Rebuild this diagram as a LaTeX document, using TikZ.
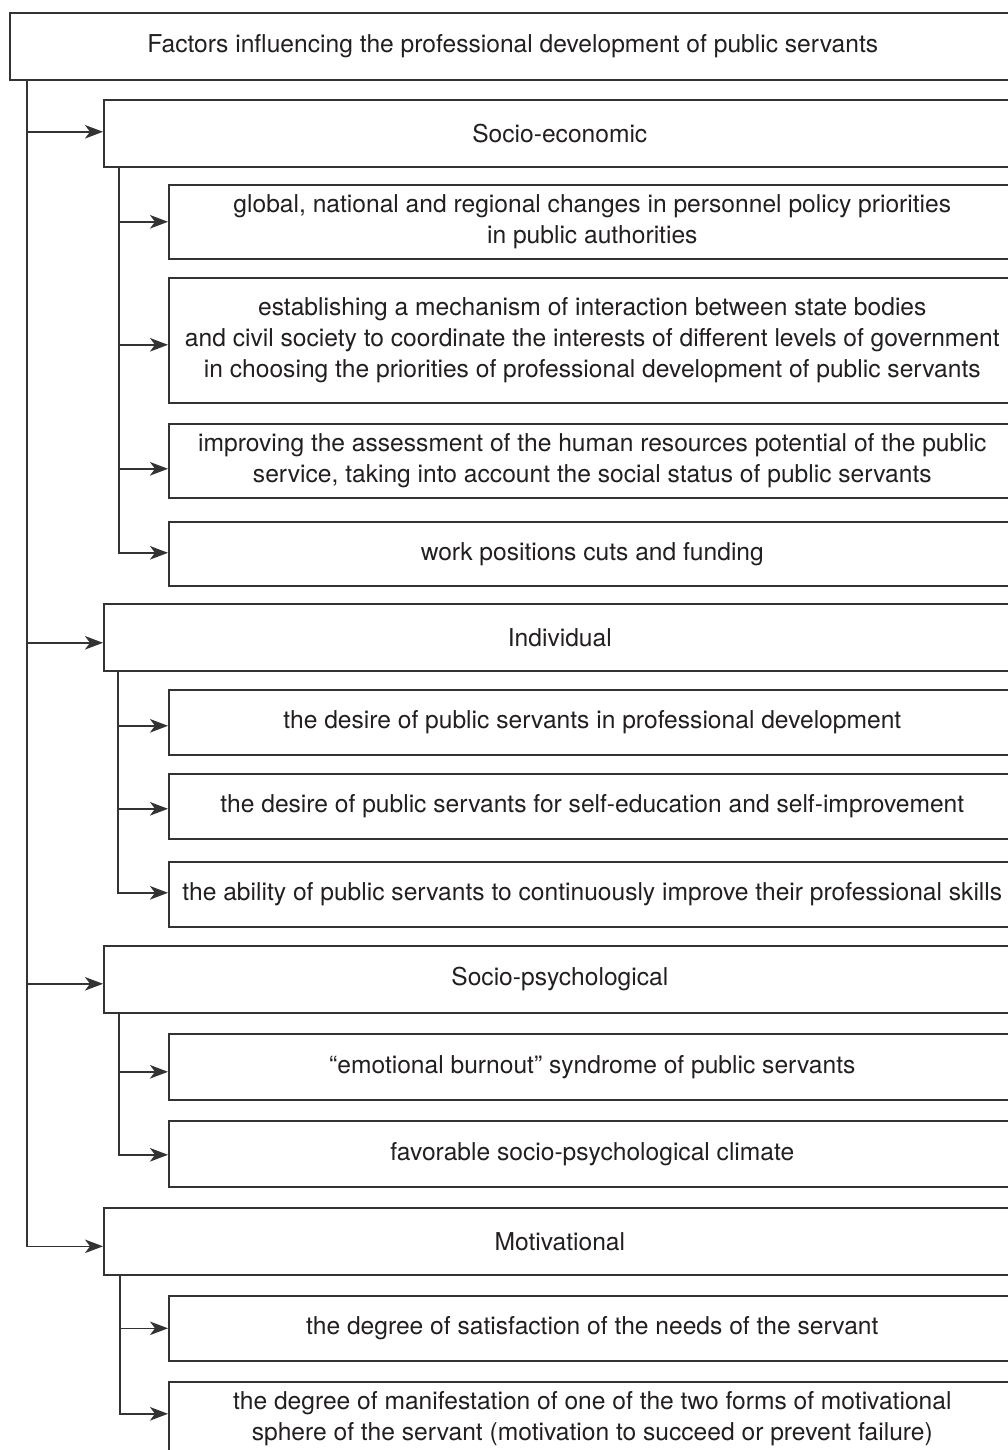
\documentclass[tikz,border=0pt]{standalone}
\usepackage{fontspec}
\setmainfont{TeX Gyre Heros}
\usetikzlibrary{arrows.meta}
\definecolor{ink}{HTML}{231F20}
\definecolor{rule}{HTML}{333333}
\tikzset{
  box/.style={draw=rule, line width=1.6pt, inner sep=0pt, align=center, anchor=north west,
    text=ink, font=\fontsize{24.6}{31}\selectfont},
  topbox/.style={box, minimum width=1006pt, minimum height=67pt},
  catbox/.style={box, minimum width=912pt, minimum height=67pt},
  subbox/.style={box, minimum width=847pt},
  conn/.style={draw=rule, line width=1.6pt, -{Stealth[length=18pt,width=13.5pt,inset=5pt]}},
}
\begin{document}
\begin{tikzpicture}[x=1pt,y=-1pt]
\clip (0,0) rectangle (1008,1450);
\fill[white] (0,0) rectangle (1008,1450);
% title
\node[topbox] (top) at (9,12) {Factors influencing the professional development of public servants};
% categories
\node[catbox] (se) at (103,99) {Socio-economic};
\node[subbox, minimum height=74pt] (se1) at (168,184) {global, national and regional changes in personnel policy priorities\\in public authorities};
\node[subbox, minimum height=125pt] (se2) at (168,277) {establishing a mechanism of interaction between state bodies\\and civil society to coordinate the interests of different levels of government\\in choosing the priorities of professional development of public servants};
\node[subbox, minimum height=74pt] (se3) at (168,423) {improving the assessment of the human resources potential of the public\\service, taking into account the social status of public servants};
\node[subbox, minimum height=64pt] (se4) at (168,521) {work positions cuts and funding};

\node[catbox] (ind) at (103,603) {Individual};
\node[subbox, minimum height=65pt] (in1) at (168,689) {the desire of public servants in professional development};
\node[subbox, minimum height=65pt] (in2) at (168,773) {the desire of public servants for self-education and self-improvement};
\node[subbox, minimum height=65pt] (in3) at (168,861) {the ability of public servants to continuously improve their professional skills};

\node[catbox] (sp) at (103,945) {Socio-psychological};
\node[subbox, minimum height=66pt] (sp1) at (168,1033) {“emotional burnout” syndrome of public servants};
\node[subbox, minimum height=66pt] (sp2) at (168,1120) {favorable socio-psychological climate};

\node[catbox] (mo) at (103,1207) {Motivational};
\node[subbox, minimum height=65pt] (mo1) at (168,1295) {the degree of satisfaction of the needs of the servant};
\node[subbox, minimum height=74pt] (mo2) at (168,1381) {the degree of manifestation of one of the two forms of motivational\\sphere of the servant (motivation to succeed or prevent failure)};

% main trunk
\coordinate (trunk) at ([xshift=18pt]top.south west);
\draw[conn] (trunk) |- ([yshift=1.5pt]se.west);
\draw[conn] (trunk) |- ([yshift=-5.5pt]ind.west);
\draw[conn] (trunk) |- ([yshift=-4.5pt]sp.west);
\draw[conn] (trunk) |- ([yshift=-5pt]mo.west);

% socio-economic branch
\coordinate (b1) at ([xshift=16pt]se.south west);
\draw[conn] (b1) |- (se1.west);
\draw[conn] (b1) |- ([yshift=-4.5pt]se2.west);
\draw[conn] (b1) |- ([yshift=-8pt]se3.west);
\draw[conn] (b1) |- ([yshift=1pt]se4.west);

% individual branch
\coordinate (b2) at ([xshift=15pt]ind.south west);
\draw[conn] (b2) |- ([yshift=-3.5pt]in1.west);
\draw[conn] (b2) |- ([yshift=-2.5pt]in2.west);
\draw[conn] (b2) |- ([yshift=1.5pt]in3.west);

% socio-psychological branch
\coordinate (b3) at ([xshift=16pt]sp.south west);
\draw[conn] (b3) |- ([yshift=-5pt]sp1.west);
\draw[conn] (b3) |- ([yshift=-1pt]sp2.west);

% motivational branch
\coordinate (b4) at ([xshift=17pt]mo.south west);
\draw[conn] (b4) |- (mo1.west);
\draw[conn] (b4) |- ([yshift=5pt]mo2.west);
\end{tikzpicture}
\end{document}
